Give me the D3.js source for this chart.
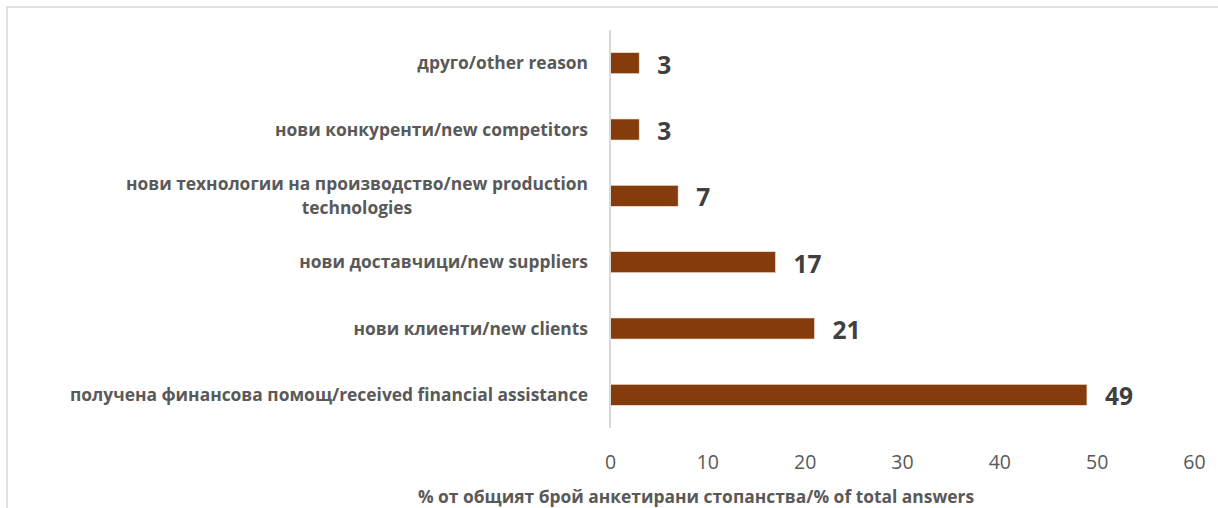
<!DOCTYPE html>
<html>
<head>
<meta charset="utf-8">
<script src="https://cdn.jsdelivr.net/npm/d3@7"></script>
<style>
  html, body { margin: 0; padding: 0; background: #fff; }
  svg { display: block; }
  text { font-family: "Open Sans", "Noto Sans", sans-serif; }
</style>
</head>
<body>
<svg id="chart" width="1218" height="508"></svg>
<script>
// Reasons, top to bottom; a "\n" splits a label over two lines
const categories = [
  "друго/other reason",
  "нови конкуренти/new competitors",
  "нови технологии на производство/new production\ntechnologies",
  "нови доставчици/new suppliers",
  "нови клиенти/new clients",
  "получена финансова помощ/received financial assistance"
];
const shares = [3, 3, 7, 17, 21, 49];
const xTicks = [0, 10, 20, 30, 40, 50, 60];
const axisTitle = "% от общият брой анкетирани стопанства/% of total answers";

const svg = d3.select("#chart");

// frame around the chart area
svg.append("rect")
  .attr("x", 7).attr("y", 7)
  .attr("width", 1400).attr("height", 700)
  .attr("fill", "none")
  .attr("stroke", "#d9d9d9")
  .attr("stroke-width", 1.6);

const plot = { left: 610, right: 1194, top: 30, bottom: 428 };
const labelSize = 17.4;

const x = d3.scaleLinear().domain([0, 60]).range([plot.left, plot.right]);
const y = d3.scaleBand()
  .domain(categories)
  .range([plot.top, plot.bottom])
  .paddingInner(0.683)
  .paddingOuter(0.3415);

// bars
svg.append("g").selectAll("rect")
  .data(categories)
  .join("rect")
  .attr("x", x(0))
  .attr("y", d => y(d))
  .attr("width", (d, i) => x(shares[i]) - x(0))
  .attr("height", y.bandwidth())
  .attr("fill", "#843c0c")
  .attr("stroke", "#f4e4d8")
  .attr("stroke-width", 0.6);

// vertical category axis line
svg.append("line")
  .attr("x1", x(0)).attr("x2", x(0))
  .attr("y1", plot.top).attr("y2", plot.bottom)
  .attr("stroke", "#d9d9d9")
  .attr("stroke-width", 2);

// category labels (right-aligned block, lines centred on each other)
const catG = svg.append("g");
categories.forEach(c => {
  const lines = c.split("\n");
  const cy = y(c) + y.bandwidth() / 2;
  const lh = 24;
  const g = catG.append("g");
  const t = g.append("text")
    .attr("fill", "#595959")
    .attr("font-size", labelSize)
    .attr("font-weight", "bold")
    .attr("text-anchor", lines.length === 1 ? "end" : "middle");
  if (lines.length === 1) {
    t.attr("x", 588).attr("y", cy).attr("dy", "0.35em").text(lines[0]);
  } else {
    lines.forEach((ln, k) => {
      t.append("tspan")
        .attr("x", 0)
        .attr("y", cy + (k - (lines.length - 1) / 2) * lh)
        .attr("dy", "0.35em")
        .text(ln);
    });
    const w = t.node().getBBox().width;
    g.attr("transform", `translate(${588 - w / 2},0)`);
  }
});

// value labels
svg.append("g").selectAll("text")
  .data(categories)
  .join("text")
  .attr("x", (d, i) => x(shares[i]) + 18)
  .attr("y", d => y(d) + y.bandwidth() / 2 + 10.5)
  .attr("fill", "#404040")
  .attr("font-size", 24.5)
  .attr("font-weight", "bold")
  .text((d, i) => shares[i]);

// value axis tick labels (no axis line or tick marks)
const xAxis = d3.axisBottom(x).tickValues(xTicks).tickSize(0).tickPadding(0);
const gx = svg.append("g")
  .attr("transform", `translate(0,${plot.bottom})`)
  .call(xAxis);
gx.select(".domain").remove();
gx.selectAll("text")
  .attr("font-family", "\"Open Sans\", sans-serif")
  .attr("font-size", 19.5)
  .attr("fill", "#595959")
  .attr("dy", null)
  .attr("y", 41);

// axis title
svg.append("text")
  .attr("x", 696)
  .attr("y", 503)
  .attr("text-anchor", "middle")
  .attr("fill", "#595959")
  .attr("font-size", labelSize)
  .attr("font-weight", "bold")
  .text(axisTitle);
</script>
</body>
</html>
